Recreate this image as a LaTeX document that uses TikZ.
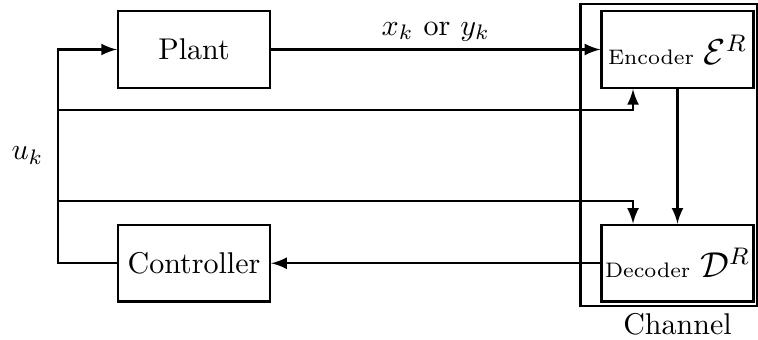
\documentclass[tikz,border=0pt]{standalone}
\usepackage{tikz}
\usetikzlibrary{positioning}

\begin{document}
\begin{tikzpicture}[
					block/.style={rectangle, draw=black!100, thick, inner sep=0.8pt, minimum width=1.78cm, minimum height=0.9cm},
					wide/.style={rectangle, draw=black!100, thick, minimum width=2.07cm, minimum height=3.54cm},
					sig/.style={rectangle, inner sep=0pt, align=center}
				]
				\useasboundingbox (0,0) rectangle (8.88,3.983);
				\node[block] (plant) at (2.273,3.403) {Plant};
				\node[block] (controller) [below=1.576cm of plant] {Controller};
				\node[block] (encoder) at (7.937,3.403) {{\scriptsize Encoder} {\fontsize{11.5pt}{13pt}\selectfont$\mathcal{E}^R$}};
				\node[block] (decoder) [below=1.576cm of encoder] {{\scriptsize Decoder} {\fontsize{11.5pt}{13pt}\selectfont$\mathcal{D}^R$}};
				\node[wide] (channelbox) at (7.834,2.167) {};
				\node[sig] (channeltext) [below=0.12cm of decoder] {Channel};
				\node[sig] (inputsig) at (0.322,2.16) {$u_k$};
				\coordinate (leftline) at (0.679,2.16);
				\coordinate (enctap) at (7.416,2.694);
				\coordinate (dectap) at (7.416,1.628);
				\begin{scope}[thick, >=latex]
				\draw[->] (controller.west) -| (leftline) |- (plant.west);
				\draw[->] (plant.east) -- node[above=-1pt] {$x_k$ or $y_k$} (encoder.west);
				\draw[->] (leftline |- enctap) -- (enctap) -- (enctap |- encoder.south);
				\draw[->] (leftline |- dectap) -- (dectap) -- (dectap |- decoder.north);
				\draw[->] (encoder.south) -- (decoder.north);
				\draw[->] (decoder.west) -- (controller.east);
				\end{scope}
				\end{tikzpicture}
\end{document}
